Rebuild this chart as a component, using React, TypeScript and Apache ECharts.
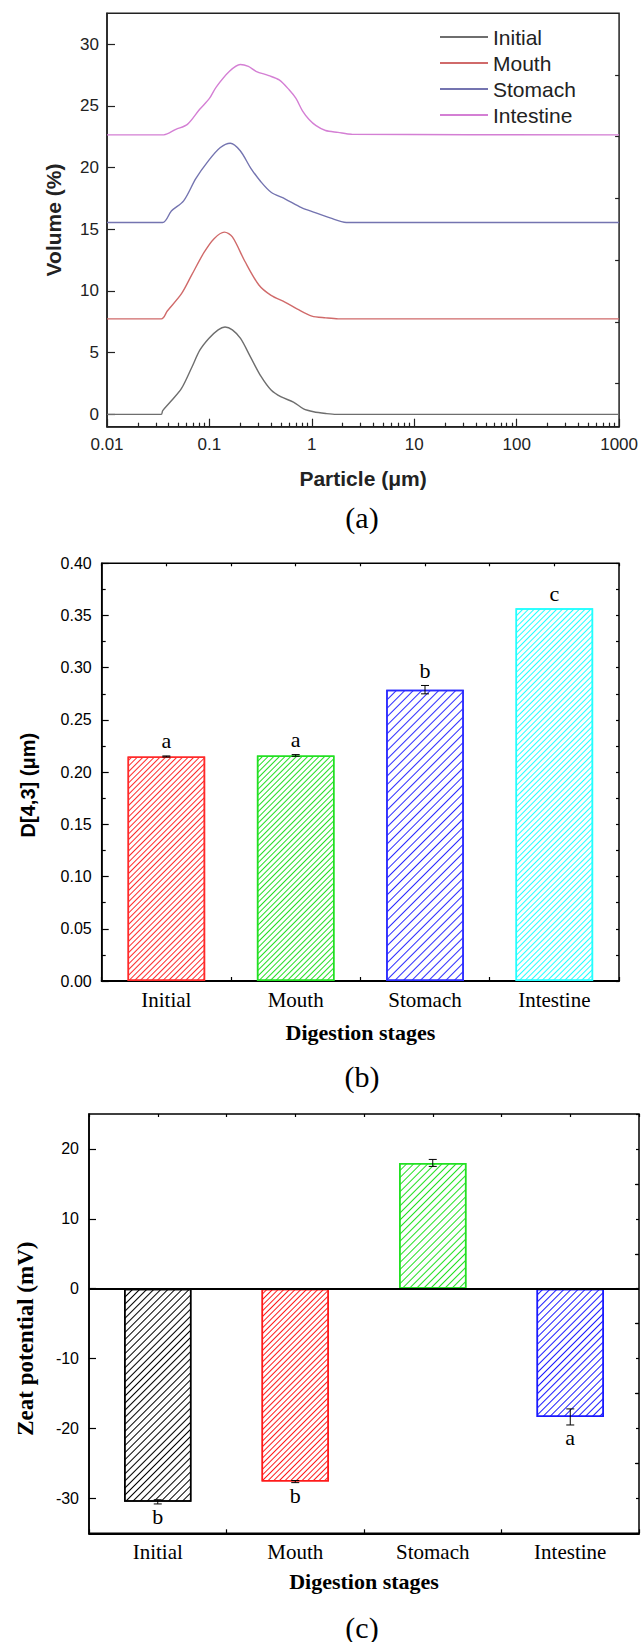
import React, { useEffect, useRef } from "react";
import * as echarts from "echarts";

// ---------- Panel (a): particle size distribution ----------
const seriesNames = ["Initial", "Mouth", "Stomach", "Intestine"];

const sizeInitial = [0.01, 0.0338, 0.035, 0.0425, 0.0534, 0.0672, 0.0806, 0.0986, 0.1217, 0.142, 0.1675, 0.2013, 0.253, 0.318, 0.4, 0.502, 0.661, 0.83, 1.04, 1.37, 1.73, 1000];
const volInitial = [0, 0, 0.3, 1.1, 2.1, 3.8, 5.2, 6.15, 6.85, 7.08, 6.85, 6.15, 4.62, 3.09, 1.97, 1.41, 1.0, 0.44, 0.21, 0.07, 0, 0];

const sizeMouth = [0.01, 0.034, 0.0388, 0.0534, 0.0672, 0.0883, 0.111, 0.14, 0.1675, 0.221, 0.304, 0.4, 0.551, 0.723, 1.0, 1.37, 1.81, 1000];
const volMouth = [7.74, 7.74, 8.38, 9.78, 11.3, 13.1, 14.24, 14.77, 14.38, 12.43, 10.48, 9.64, 9.08, 8.52, 7.96, 7.82, 7.74, 7.74];

const sizeStomach = [0.01, 0.035, 0.0425, 0.056, 0.0736, 0.0968, 0.127, 0.16, 0.2, 0.253, 0.318, 0.4, 0.551, 0.792, 1.04, 1.507, 2.17, 1000];
const volStomach = [15.55, 15.55, 16.48, 17.3, 19.1, 20.5, 21.6, 21.97, 21.36, 19.96, 18.85, 18.0, 17.45, 16.75, 16.39, 15.92, 15.55, 15.55];

const sizeIntestine = [0.01, 0.0358, 0.047, 0.061, 0.08, 0.1, 0.116, 0.157, 0.2, 0.24, 0.285, 0.38, 0.48, 0.6, 0.7, 0.81, 0.94, 1.1, 1.36, 1.8, 2.45, 1000];
const volIntestine = [22.65, 22.65, 23.1, 23.5, 24.7, 25.6, 26.5, 27.8, 28.35, 28.2, 27.8, 27.45, 27.1, 26.3, 25.6, 24.6, 23.9, 23.4, 23.0, 22.85, 22.7, 22.65];

const volumeTicks = [0, 5, 10, 15, 20, 25, 30];
const volumeMinorTicks = [2.5, 7.5, 12.5, 17.5, 22.5, 27.5];
const particleMinorMultipliers = [2, 3, 4, 5, 6, 7, 8, 9];
const particleDecades = [0.01, 0.1, 1, 10, 100];

// ---------- Panel (b): D[4,3] ----------
const stages = ["Initial", "Mouth", "Stomach", "Intestine"];
const d43 = [0.215, 0.216, 0.279, 0.357];
const d43Err = [0.0005, 0.0008, 0.004, 0];
const d43Letters = ["a", "a", "b", "c"];

// ---------- Panel (c): zeta potential ----------
const zeta = [-30.5, -27.6, 18.0, -18.35];
const zetaErr = [0.3, 0.15, 0.5, 1.15];
const zetaLetters = ["b", "b", "", "a"];
const zetaTicks = [-30, -20, -10, 0, 10, 20];
const zetaMinorTicks = [-25, -15, -5, 5, 15];

// ---------- styles ----------
const lineColors = ["#6e6e6e", "#d06a6a", "#7474b0", "#d47fd4"];
const bColors = ["#ff2a2a", "#22e022", "#2a2aff", "#22ffff"];
const bHatchGap = [2.6, 2.6, 4.5, 2.4];
const cColors = ["#000000", "#ff1a1a", "#22e022", "#1a1aff"];
const cHatchGap = [3.8, 2.4, 3.2, 3.2];

const SANS = "Liberation Sans";
const SERIF = "Liberation Serif";

const hatch = (color: string, gap: number) => ({
  symbol: "rect",
  symbolSize: 1,
  color,
  backgroundColor: "#ffffff",
  dashArrayX: [1, 0],
  dashArrayY: [1, gap],
  rotation: -Math.PI / 4,
});

const makeErrRender = (letters: string[], aboveOffset: number, belowOffset: number) =>
  (params: any, api: any) => {
    const i = params.dataIndex;
    const x = api.value(0);
    const v = api.value(1);
    const e = api.value(2);
    const hi = api.coord([x, v + e]);
    const lo = api.coord([x, v - e]);
    const cx = hi[0];
    const children: any[] = [];
    const ls = { stroke: "#000", lineWidth: 1 };
    if (e > 0) {
      children.push({ type: "line", shape: { x1: cx, y1: hi[1], x2: cx, y2: lo[1] }, style: ls });
      children.push({ type: "line", shape: { x1: cx - 4, y1: hi[1], x2: cx + 4, y2: hi[1] }, style: ls });
      children.push({ type: "line", shape: { x1: cx - 4, y1: lo[1], x2: cx + 4, y2: lo[1] }, style: ls });
    }
    if (letters[i]) {
      const y = v >= 0 ? hi[1] - aboveOffset : lo[1] + belowOffset;
      children.push({
        type: "text",
        style: {
          text: letters[i],
          x: cx,
          y,
          textAlign: "center",
          textVerticalAlign: "middle",
          font: `22px "${SERIF}"`,
          fill: "#000",
        },
      });
    }
    return { type: "group", children };
  };

export default function App() {
  const ref = useRef<HTMLDivElement>(null);

  useEffect(() => {
    if (!ref.current) return;
    const chart = echarts.init(ref.current, undefined, { renderer: "svg" });

    const minorLog: number[] = [];
    particleDecades.forEach((d) => particleMinorMultipliers.forEach((k) => minorLog.push(Math.log10(k * d))));

    const zip = (xs: number[], ys: number[]) => xs.map((x, i) => [x, ys[i]]);
    const curves = [
      zip(sizeInitial, volInitial),
      zip(sizeMouth, volMouth),
      zip(sizeStomach, volStomach),
      zip(sizeIntestine, volIntestine),
    ];

    const tickLine = (c: string) => ({ color: c, width: 1.2 });
    const hiddenLine = { show: false, onZero: false };

    const option: any = {
      animation: false,
      backgroundColor: "#ffffff",
      grid: [
        { left: 107, top: 13.3, width: 514.7, height: 413.4, show: true, borderColor: "#222", borderWidth: 1.5 },
        { left: 101.7, top: 563.3, width: 517.3, height: 417.7, show: true, borderColor: "#000", borderWidth: 1.5 },
        { left: 89, top: 1114, width: 550, height: 419.3, show: true, borderColor: "#000", borderWidth: 1.5 },
      ],
      legend: {
        data: seriesNames,
        orient: "vertical",
        left: 434,
        top: 21.5,
        itemWidth: 48,
        itemHeight: 14,
        itemGap: 5,
        itemStyle: { opacity: 0 },
        textStyle: { fontSize: 21, fontFamily: SANS, color: "#222" },
      },
      xAxis: [
        {
          type: "log", gridIndex: 0, logBase: 10, min: 0.01, max: 1000, position: "bottom",
          axisLine: { onZero: false, lineStyle: { color: "#222", width: 1.5 } },
          axisTick: { inside: true, length: 8, lineStyle: tickLine("#222") },
          axisLabel: {
            color: "#222", fontSize: 17, fontFamily: SANS, margin: 9,
            formatter: (v: number) => String(Math.round(v * 100) / 100),
          },
          splitLine: { show: false },
          name: "Particle (μm)", nameLocation: "middle", nameGap: 41,
          nameTextStyle: { fontSize: 21, fontWeight: "bold", fontFamily: SANS, color: "#222" },
        },
        {
          type: "value", gridIndex: 0, min: -2, max: 3, position: "bottom",
          axisLine: hiddenLine,
          axisTick: { inside: true, length: 4, customValues: minorLog, lineStyle: tickLine("#222") },
          axisLabel: { show: false }, splitLine: { show: false },
        },
        {
          type: "category", gridIndex: 1, data: stages, position: "bottom",
          axisLine: { onZero: false, lineStyle: { color: "#000", width: 2 } },
          axisTick: { alignWithLabel: true, inside: true, length: 7, lineStyle: tickLine("#000") },
          axisLabel: { fontSize: 21, fontFamily: SERIF, color: "#000", margin: 8 },
          name: "Digestion stages", nameLocation: "middle", nameGap: 40,
          nameTextStyle: { fontSize: 22, fontWeight: "bold", fontFamily: SERIF, color: "#000" },
        },
        {
          type: "value", gridIndex: 1, position: "bottom", min: 0, max: 4, interval: 1,
          axisLine: hiddenLine, axisTick: { inside: true, length: 4, lineStyle: tickLine("#000") },
          axisLabel: { show: false }, splitLine: { show: false },
        },
        {
          type: "value", gridIndex: 1, position: "top", min: 0, max: 4, interval: 0.5,
          axisLine: hiddenLine, axisTick: { inside: true, length: 3, lineStyle: tickLine("#000") },
          axisLabel: { show: false }, splitLine: { show: false },
        },
        {
          type: "category", gridIndex: 2, data: stages, position: "bottom",
          axisLine: { onZero: false, lineStyle: { color: "#000", width: 2 } },
          axisTick: { alignWithLabel: true, inside: true, length: 7, lineStyle: tickLine("#000") },
          axisLabel: { fontSize: 21, fontFamily: SERIF, color: "#000", margin: 8 },
          name: "Digestion stages", nameLocation: "middle", nameGap: 37,
          nameTextStyle: { fontSize: 22, fontWeight: "bold", fontFamily: SERIF, color: "#000" },
        },
        {
          type: "value", gridIndex: 2, position: "bottom", min: 0, max: 4, interval: 1,
          axisLine: hiddenLine, axisTick: { inside: true, length: 4, lineStyle: tickLine("#000") },
          axisLabel: { show: false }, splitLine: { show: false },
        },
        {
          type: "value", gridIndex: 2, position: "top", min: 0, max: 4, interval: 0.5,
          axisLine: hiddenLine, axisTick: { inside: true, length: 3, lineStyle: tickLine("#000") },
          axisLabel: { show: false }, splitLine: { show: false },
        },
      ],
      yAxis: [
        {
          type: "value", gridIndex: 0, min: -1, max: 32.5,
          axisLine: { show: true, onZero: false, lineStyle: { color: "#222", width: 1.5 } },
          axisTick: { inside: true, length: 8, customValues: volumeTicks, lineStyle: tickLine("#222") },
          axisLabel: { customValues: volumeTicks, color: "#222", fontSize: 17, fontFamily: SANS, margin: 8 },
          splitLine: { show: false },
          name: "Volume (%)", nameLocation: "middle", nameGap: 43,
          nameTextStyle: { fontSize: 21, fontWeight: "bold", fontFamily: SANS, color: "#222" },
        },
        {
          type: "value", gridIndex: 0, min: -1, max: 32.5,
          axisLine: hiddenLine,
          axisTick: { inside: true, length: 4, customValues: volumeMinorTicks, lineStyle: tickLine("#222") },
          axisLabel: { show: false }, splitLine: { show: false },
        },
        {
          type: "value", gridIndex: 1, min: 0, max: 0.4, interval: 0.05,
          axisLine: { show: true, onZero: false, lineStyle: { color: "#000", width: 1.5 } },
          axisTick: { inside: true, length: 7, lineStyle: tickLine("#000") },
          minorTick: { show: true, splitNumber: 2, length: 4, lineStyle: tickLine("#000") },
          axisLabel: { color: "#000", fontSize: 16, fontFamily: SANS, margin: 10, formatter: (v: number) => v.toFixed(2) },
          splitLine: { show: false },
          name: "D[4,3] (μm)", nameLocation: "middle", nameGap: 64,
          nameTextStyle: { fontSize: 20, fontWeight: "bold", fontFamily: SANS, color: "#000", padding: [0, 26, 0, 0] },
        },
        {
          type: "value", gridIndex: 1, position: "right", min: 0, max: 0.4, interval: 0.025,
          axisLine: hiddenLine, axisTick: { inside: true, length: 3, lineStyle: tickLine("#000") },
          axisLabel: { show: false }, splitLine: { show: false },
        },
        {
          type: "value", gridIndex: 2, min: -35, max: 25,
          axisLine: { show: true, onZero: false, lineStyle: { color: "#000", width: 1.5 } },
          axisTick: { inside: true, length: 7, customValues: zetaTicks, lineStyle: tickLine("#000") },
          axisLabel: { customValues: zetaTicks, color: "#000", fontSize: 16, fontFamily: SANS, margin: 10 },
          splitLine: { show: false },
          name: "Zeat potential (mV)", nameLocation: "middle", nameGap: 52,
          nameTextStyle: { fontSize: 23, fontWeight: "bold", fontFamily: SERIF, color: "#000", padding: [0, 30, 0, 0] },
        },
        {
          type: "value", gridIndex: 2, min: -35, max: 25,
          axisLine: hiddenLine,
          axisTick: { inside: true, length: 4, customValues: zetaMinorTicks, lineStyle: tickLine("#000") },
          axisLabel: { show: false }, splitLine: { show: false },
        },
        {
          type: "value", gridIndex: 2, position: "right", min: -35, max: 25, interval: 5,
          axisLine: hiddenLine, axisTick: { inside: true, length: 3, lineStyle: tickLine("#000") },
          axisLabel: { show: false }, splitLine: { show: false },
        },
      ],
      graphic: [
        { type: "text", x: 362, y: 517, style: { text: "(a)", font: `30px "${SERIF}"`, fill: "#000", textAlign: "center", textVerticalAlign: "middle" } },
        { type: "text", x: 362, y: 1076, style: { text: "(b)", font: `30px "${SERIF}"`, fill: "#000", textAlign: "center", textVerticalAlign: "middle" } },
        { type: "text", x: 362, y: 1627, style: { text: "(c)", font: `30px "${SERIF}"`, fill: "#000", textAlign: "center", textVerticalAlign: "middle" } },
      ],
      series: [
        ...seriesNames.map((name, k) => ({
          name,
          type: "line",
          xAxisIndex: 0,
          yAxisIndex: 0,
          data: curves[k],
          showSymbol: false,
          symbol: "none",
          smooth: 0.3,
          lineStyle: { color: lineColors[k], width: 1.4 },
          itemStyle: { color: lineColors[k] },
        })),
        {
          type: "bar",
          xAxisIndex: 2,
          yAxisIndex: 2,
          barWidth: "60%",
          data: d43.map((v, i) => ({
            value: v,
            itemStyle: { color: "#ffffff", borderColor: bColors[i], borderWidth: 1.5, decal: hatch(bColors[i], bHatchGap[i]) },
          })),
        },
        {
          type: "custom",
          xAxisIndex: 2,
          yAxisIndex: 2,
          data: stages.map((_, i) => [i, d43[i], d43Err[i]]),
          encode: { x: 0, y: 1 },
          renderItem: makeErrRender(d43Letters, 15, 13),
          z: 10,
        },
        {
          type: "bar",
          xAxisIndex: 5,
          yAxisIndex: 4,
          barWidth: "49%",
          data: zeta.map((v, i) => ({
            value: v,
            itemStyle: { color: "#ffffff", borderColor: cColors[i], borderWidth: 1.5, decal: hatch(cColors[i], cHatchGap[i]) },
          })),
          markLine: {
            silent: true,
            symbol: "none",
            label: { show: false },
            lineStyle: { color: "#000", width: 2, type: "solid" },
            data: [{ yAxis: 0 }],
          },
        },
        {
          type: "custom",
          xAxisIndex: 5,
          yAxisIndex: 4,
          data: stages.map((_, i) => [i, zeta[i], zetaErr[i]]),
          encode: { x: 0, y: 1 },
          renderItem: makeErrRender(zetaLetters, 15, 13),
          z: 10,
        },
      ],
    };

    chart.setOption(option);
    return () => chart.dispose();
  }, []);

  return <div ref={ref} style={{ position: "absolute", left: 0, top: 0, width: 641, height: 1642 }} />;
}
